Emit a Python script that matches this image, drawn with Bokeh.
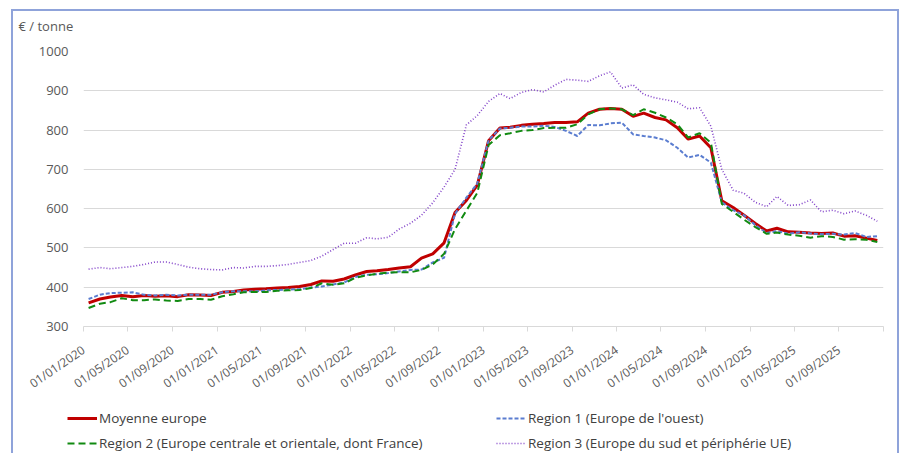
import pandas as pd
from bokeh.plotting import figure
from bokeh.layouts import column
from bokeh.models import (FixedTicker, DatetimeTickFormatter, Legend, LegendItem,
                          Label, Range1d, ColumnDataSource)
from bokeh.embed import file_html
from bokeh.resources import INLINE

# ---- data (monthly, mid-month, Jan 2020 .. Dec 2025), EUR / tonne ----
months = pd.date_range("2020-01-01", "2025-12-01", freq="MS")

moyenne_europe = [
    360, 370, 375, 379, 376, 379, 377, 378, 376, 381, 380, 379,
    387, 389, 393, 395, 396, 398, 399, 402, 407, 416, 415, 421,
    431, 440, 442, 445, 449, 452, 474, 485, 513, 590, 621, 660,
    773, 805, 807, 812, 815, 817, 819, 819, 821, 843, 853, 855,
    853, 835, 843, 832, 826, 806, 777, 785, 755, 620, 603, 583,
    562, 543, 550, 541, 540, 538, 537, 538, 530, 531, 525, 519,
]
region_1 = [
    370, 381, 385, 386, 387, 381, 379, 381, 379, 381, 381, 381,
    387, 390, 390, 389, 392, 393, 394, 395, 399, 402, 407, 412,
    426, 432, 433, 436, 440, 444, 445, 463, 475, 587, 628, 664,
    774, 804, 806, 809, 809, 811, 808, 798, 785, 813, 812, 817,
    819, 789, 785, 781, 774, 755, 730, 737, 717, 616, 596, 583,
    558, 538, 543, 536, 540, 537, 535, 536, 534, 538, 528, 530,
]
region_2 = [
    347, 358, 362, 372, 367, 367, 369, 366, 365, 370, 370, 368,
    377, 382, 387, 388, 388, 391, 392, 393, 398, 410, 406, 410,
    424, 430, 434, 437, 438, 438, 444, 458, 485, 548, 595, 640,
    762, 787, 792, 798, 800, 805, 806, 806, 815, 840, 853, 855,
    853, 838, 853, 844, 832, 815, 781, 792, 768, 612, 592, 572,
    553, 536, 539, 534, 531, 526, 530, 528, 521, 522, 521, 515,
]
region_3 = [
    446, 450, 447, 450, 453, 458, 464, 464, 458, 451, 447, 445,
    444, 450, 449, 453, 453, 455, 458, 463, 468, 479, 496, 512,
    512, 526, 523, 527, 548, 563, 583, 615, 655, 700, 813, 837,
    873, 893, 880, 896, 903, 897, 914, 929, 927, 924, 938, 948,
    907, 915, 891, 882, 877, 871, 854, 857, 810, 700, 647, 639,
    616, 605, 631, 608, 610, 622, 592, 596, 587, 594, 583, 568,
]
series_names = [
    "Moyenne europe",
    "Region 1 (Europe de l'ouest)",
    "Region 2 (Europe centrale et orientale, dont France)",
    "Region 3 (Europe du sud et périphérie UE)",
]
unit_label = "€ / tonne"
y_ticks = [300, 400, 500, 600, 700, 800, 900, 1000]
tick_dates = pd.date_range("2020-01-01", "2025-09-01", freq="4MS")
axis_end = pd.Timestamp("2026-01-01")

# ---- styles ----
BORDER = "2px solid #8FA3DA"
series_cols = ["moy", "r1", "r2", "r3"]
styles_line = [
    dict(line_color="#C00000", line_width=3),
    dict(line_color="#5B7DD0", line_width=2, line_dash="4 2"),
    dict(line_color="#118A11", line_width=2, line_dash="7 4"),
    dict(line_color="#8344C9", line_width=1.6, line_dash="1 2"),
]
W = 888

src = ColumnDataSource(dict(
    x=months + pd.Timedelta(days=14),
    moy=moyenne_europe, r1=region_1, r2=region_2, r3=region_3,
))

def bare(fig):
    fig.axis.visible = False
    fig.grid.visible = False
    fig.outline_line_color = None
    fig.background_fill_color = "white"
    fig.border_fill_color = "white"
    fig.frame_align = False

# ---- top strip: unit label ----
top = figure(width=W, height=28, x_range=Range1d(0, 884), y_range=Range1d(0, 26),
             output_backend="svg", toolbar_location=None,
             min_border_left=0, min_border_right=0, min_border_top=0, min_border_bottom=0)
bare(top)
top.styles = {"border-top": BORDER, "border-left": BORDER, "border-right": BORDER}
top.add_layout(Label(x=5, y=13, text=unit_label, text_font="Open Sans",
                     text_font_size="13px", text_color="#595959",
                     text_baseline="middle"))

# ---- main chart ----
p = figure(width=W, height=369, x_axis_type="datetime",
           x_range=Range1d(pd.Timestamp("2020-01-01"), axis_end),
           y_range=Range1d(300, 1000),
           output_backend="svg", toolbar_location=None,
           min_border_left=70, min_border_right=18,
           min_border_top=14, min_border_bottom=80)
p.styles = {"border-left": BORDER, "border-right": BORDER}
p.outline_line_color = None
p.background_fill_color = "white"
p.border_fill_color = "white"

ms = lambda t: t.timestamp() * 1000.0
p.xaxis.ticker = FixedTicker(ticks=[ms(t) for t in tick_dates], minor_ticks=[ms(axis_end)])
fmt = "%d/%m/%Y"
p.xaxis.formatter = DatetimeTickFormatter(
    microseconds=fmt, milliseconds=fmt, seconds=fmt, minsec=fmt, minutes=fmt,
    hourmin=fmt, hours=fmt, days=fmt, months=fmt, years=fmt)
p.xaxis.axis_line_color = "#D9D9D9"
p.xaxis.major_tick_line_color = "#D9D9D9"
p.xaxis.minor_tick_line_color = "#D9D9D9"
p.xaxis.major_tick_out = 5
p.xaxis.major_tick_in = 0
p.xaxis.minor_tick_out = 5
p.xaxis.minor_tick_in = 0
p.xaxis.major_label_orientation = 0.6
p.xaxis.major_label_standoff = 17
p.xaxis.major_label_text_font = "Open Sans"
p.xaxis.major_label_text_font_size = "12px"
p.xaxis.major_label_text_color = "#595959"

p.yaxis.ticker = FixedTicker(ticks=y_ticks)
p.yaxis.axis_line_color = None
p.yaxis.major_tick_line_color = None
p.yaxis.minor_tick_line_color = None
p.yaxis.major_tick_out = 0
p.yaxis.major_label_standoff = 15
p.yaxis.major_label_text_font = "Open Sans"
p.yaxis.major_label_text_font_size = "13px"
p.yaxis.major_label_text_color = "#595959"

p.xgrid.grid_line_color = None
p.ygrid.ticker = FixedTicker(ticks=y_ticks)
p.ygrid.grid_line_color = "#D9D9D9"
p.ygrid.grid_line_width = 1

for col, st in zip(series_cols, styles_line):
    p.line("x", col, source=src, **st)

# ---- legend strip (swatch renderers use the same data, far outside this strip's ranges) ----
leg = figure(width=W, height=47, x_range=Range1d(0, 884), y_range=Range1d(0, 47),
             output_backend="svg", toolbar_location=None,
             min_border_left=0, min_border_right=0, min_border_top=0, min_border_bottom=0)
bare(leg)
leg.styles = {"border-left": BORDER, "border-right": BORDER}
swatches = [leg.line("x", col, source=src, **st) for col, st in zip(series_cols, styles_line)]
legend = Legend(items=[LegendItem(label=n, renderers=[r]) for n, r in zip(series_names, swatches)],
                orientation="horizontal", ncols=2,
                location=(54, 0), margin=0, padding=0, spacing=5,
                glyph_width=30, glyph_height=20, label_standoff=2,
                label_width=392, label_height=20,
                label_text_font="Open Sans", label_text_font_size="13.5px",
                label_text_color="#404040",
                border_line_color=None, background_fill_alpha=0)
leg.add_layout(legend, "center")

layout = column(top, p, leg, spacing=0, styles={"margin-left": "11px", "margin-top": "9px"})

open("out.html", "w").write(file_html(layout, INLINE))
